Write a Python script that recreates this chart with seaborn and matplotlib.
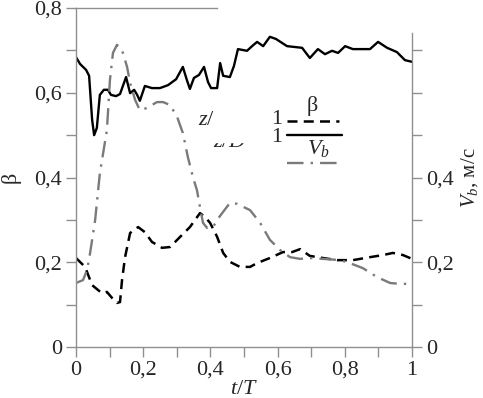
import matplotlib
matplotlib.use('Agg')
import matplotlib.pyplot as plt
import seaborn as sns
import pandas as pd
from matplotlib.lines import Line2D
from matplotlib.patches import Rectangle

sns.set_theme(style='white')
plt.rcParams['font.family'] = ['Liberation Serif', 'DejaVu Serif']
plt.rcParams['mathtext.fontset'] = 'custom'
plt.rcParams['mathtext.it'] = 'Liberation Serif:italic'
plt.rcParams['mathtext.rm'] = 'Liberation Serif'

# solid curve (1)
t_solid = [0.0, 0.012, 0.030, 0.039, 0.048, 0.054, 0.062, 0.071, 0.083, 0.095, 0.104,
           0.119, 0.131, 0.149, 0.161, 0.173, 0.182, 0.190, 0.205, 0.226, 0.250, 0.274,
           0.298, 0.318, 0.330, 0.339, 0.351, 0.366, 0.381, 0.393, 0.402, 0.420, 0.429,
           0.438, 0.458, 0.470, 0.482, 0.509, 0.524, 0.539, 0.557, 0.577, 0.595, 0.628,
           0.673, 0.696, 0.720, 0.741, 0.762, 0.780, 0.801, 0.824, 0.875, 0.899, 0.926,
           0.955, 0.979, 1.0]
v_solid = [0.684, 0.668, 0.654, 0.640, 0.536, 0.500, 0.517, 0.595, 0.607, 0.607, 0.595,
           0.592, 0.597, 0.637, 0.599, 0.607, 0.595, 0.581, 0.616, 0.611, 0.611, 0.618,
           0.632, 0.661, 0.630, 0.609, 0.635, 0.642, 0.661, 0.625, 0.611, 0.611, 0.670,
           0.640, 0.637, 0.663, 0.703, 0.699, 0.710, 0.720, 0.710, 0.732, 0.727, 0.710,
           0.706, 0.682, 0.703, 0.691, 0.699, 0.694, 0.710, 0.703, 0.703, 0.720, 0.706,
           0.696, 0.677, 0.673]

# beta (dashed)
t_beta = [0.0, 0.027, 0.048, 0.077, 0.092, 0.107, 0.122, 0.131, 0.137, 0.146, 0.161,
          0.185, 0.205, 0.226, 0.256, 0.280, 0.310, 0.339, 0.369, 0.384, 0.399, 0.420,
          0.438, 0.458, 0.488, 0.518, 0.539, 0.577, 0.616, 0.643, 0.667, 0.696, 0.735,
          0.777, 0.824, 0.875, 0.914, 0.943, 0.973, 1.0]
beta = [0.210, 0.189, 0.146, 0.127, 0.130, 0.116, 0.104, 0.106, 0.158, 0.212, 0.269,
        0.283, 0.271, 0.248, 0.234, 0.236, 0.260, 0.283, 0.316, 0.307, 0.293, 0.260,
        0.222, 0.201, 0.189, 0.189, 0.198, 0.210, 0.224, 0.224, 0.231, 0.215, 0.210,
        0.205, 0.205, 0.212, 0.217, 0.222, 0.217, 0.208]

# V_b (dash-dot, m/s)
t_vb = [0.0, 0.021, 0.033, 0.042, 0.057, 0.071, 0.092, 0.101, 0.110, 0.122, 0.137,
        0.152, 0.161, 0.176, 0.190, 0.211, 0.241, 0.259, 0.280, 0.301, 0.318, 0.333,
        0.348, 0.360, 0.369, 0.378, 0.390, 0.408, 0.420, 0.438, 0.458, 0.479, 0.518,
        0.548, 0.577, 0.607, 0.637, 0.667, 0.696, 0.735, 0.786, 0.815, 0.854, 0.896,
        0.935, 0.964, 1.0]
vb = [0.151, 0.158, 0.182, 0.222, 0.300, 0.410, 0.512, 0.630, 0.694, 0.713, 0.701,
      0.661, 0.623, 0.583, 0.559, 0.564, 0.578, 0.578, 0.571, 0.543, 0.505, 0.448,
      0.401, 0.370, 0.330, 0.293, 0.281, 0.283, 0.300, 0.319, 0.340, 0.338, 0.323,
      0.293, 0.253, 0.229, 0.212, 0.208, 0.210, 0.208, 0.205, 0.198, 0.186, 0.165,
      0.151, 0.149, 0.149]

x_labels = ['0', '0,2', '0,4', '0,6', '0,8', '1']
y_labels = ['0', '0,2', '0,4', '0,6', '0,8']
r_labels = ['0', '0,2', '0,4']

axis_gray = '#8f8f8f'
fs = 16

fig = plt.figure(figsize=(4.83, 3.98), dpi=100)
ax = fig.add_axes([76 / 483, 1 - 347 / 398, 336 / 483, 339 / 398])

df_s = pd.DataFrame({'t': t_solid, 'v': v_solid})
df_b = pd.DataFrame({'t': t_beta, 'v': beta})
df_v = pd.DataFrame({'t': t_vb, 'v': vb})

sns.lineplot(data=df_s, x='t', y='v', ax=ax, color='black', lw=1.7, sort=False)
sns.lineplot(data=df_b, x='t', y='v', ax=ax, color='black', lw=1.8, sort=False,
             linestyle=(0, (4, 2.5)))
sns.lineplot(data=df_v, x='t', y='v', ax=ax, color='#7a7a7a', lw=1.7, sort=False,
             linestyle=(0, (7, 3, 1, 3)))

ax.set_xlim(0, 1)
ax.set_ylim(0, 0.8)
ax.set_xticks([i / 10 for i in range(11)])
ax.set_xticklabels([x_labels[i // 2] if i % 2 == 0 else '' for i in range(11)], fontsize=fs)
ax.set_yticks([i / 10 for i in range(9)])
ax.set_yticklabels([y_labels[i // 2] if i % 2 == 0 else '' for i in range(9)], fontsize=fs)
ax.tick_params(direction='out', length=7, width=1, color=axis_gray, pad=3,
               bottom=True, left=True)
ax.set_xlabel('$t/T$', fontsize=fs, labelpad=0)
ax.set_ylabel('β', fontsize=fs, labelpad=10)

for side in ['left', 'bottom', 'top']:
    ax.spines[side].set_color(axis_gray)
    ax.spines[side].set_linewidth(1)
ax.spines['top'].set_bounds(0, 0.42)
ax.spines['right'].set_visible(False)

# right axis, same scale
ax2 = ax.twinx()
ax2.set_ylim(0, 0.8)
ax2.set_yticks([i / 10 for i in range(8)])
ax2.set_yticklabels([r_labels[i // 2] if i % 2 == 0 and i // 2 < 3 else '' for i in range(8)],
                    fontsize=fs)
ax2.tick_params(direction='out', length=7, width=1, color=axis_gray, pad=3, right=True)
for side in ['left', 'bottom', 'top']:
    ax2.spines[side].set_visible(False)
ax2.spines['right'].set_color(axis_gray)
ax2.spines['right'].set_linewidth(1)
ax2.spines['right'].set_bounds(0, 0.74)
ax2.set_ylabel('$V_b$, м/с', fontsize=fs - 1, labelpad=4)

# legend drawn by hand
tr = ax.transAxes
ax.add_line(Line2D([0.628, 0.783], [0.667, 0.667], transform=tr, color='black',
                   lw=1.8, linestyle=(0, (4, 2.5))))
ax.add_line(Line2D([0.628, 0.792], [0.625, 0.625], transform=tr, color='black', lw=1.7))
ax.add_line(Line2D([0.628, 0.792], [0.543, 0.543], transform=tr, color='#7a7a7a',
                   lw=1.7, linestyle=(0, (7, 3, 1, 3))))
ax.text(0.598, 0.670, '1', transform=tr, fontsize=fs, ha='center', va='center')
ax.text(0.598, 0.618, '1', transform=tr, fontsize=fs, ha='center', va='center')
ax.text(0.702, 0.712, 'β', transform=tr, fontsize=fs, ha='center', va='center')
ax.text(0.722, 0.585, '$V_b$', transform=tr, fontsize=fs, ha='center', va='center')
ax.text(0.39, 0.667, '$z/$', transform=tr, fontsize=fs, ha='center', va='center')
ax.text(0.408, 0.59, '$z/D$', transform=tr, fontsize=fs, ha='left', va='baseline')
ax.add_patch(Rectangle((0.40, 0.604), 0.14, 0.04, transform=tr, color='white', zorder=5))

fig.savefig('out.png', dpi=100)
